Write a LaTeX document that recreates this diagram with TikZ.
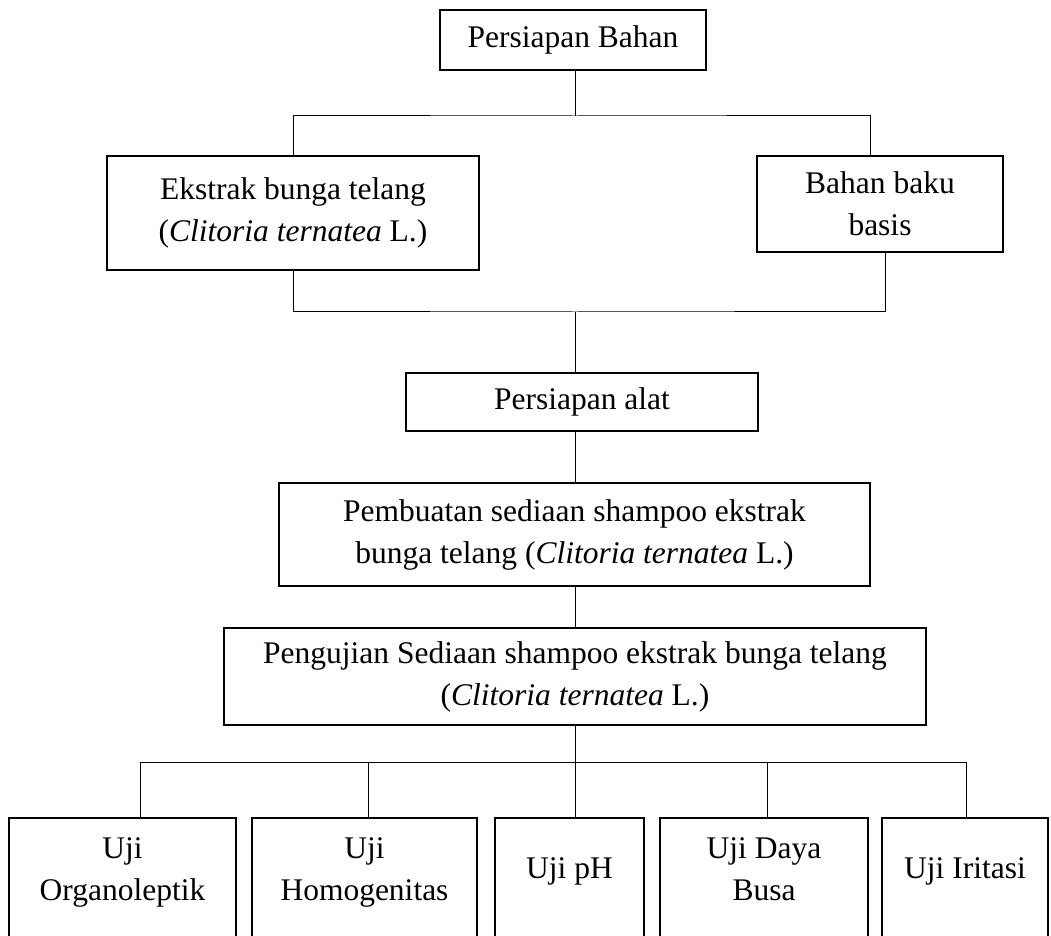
\documentclass[tikz,border=0pt]{standalone}
\usepackage{fontspec}
\setmainfont{Liberation Serif}
\begin{document}
\begin{tikzpicture}[x=0.5pt, y=-0.5pt,
    font=\fontsize{15.75}{21}\selectfont,
    box/.style={draw, line width=1.1pt, align=center, inner sep=0pt},
    testbox/.style={box, anchor=north, text depth=80pt},
    conn/.style={line width=0.5pt}]
    \clip (0,0) rectangle (1051,936);

    % Bahan
    \node[box, minimum width=133pt, minimum height=30pt] (bahan) at (573,40) {Persiapan Bahan};
    \node[box, minimum width=186pt, minimum height=57pt] (ekstrak) at (293,213) {Ekstrak bunga telang\\(\textit{Clitoria ternatea} L.)};
    \node[box, minimum width=123pt, minimum height=48pt] (baku) at (880,204) {Bahan baku\\basis};

    \coordinate (jtop) at (575,116);
    \coordinate (jbot) at (575,312);
    \draw[conn] (bahan.south -| jtop) -- (jtop);
    \draw[conn] (ekstrak.north) |- (jtop) -| ([xshift=-5pt]baku.north);
    \draw[conn] (ekstrak.south) |- (jbot) -| ([xshift=2.5pt]baku.south);

    % Alat, pembuatan, pengujian
    \node[box, minimum width=176pt, minimum height=29pt] (alat) at (582,402) {Persiapan alat};
    \node[box, minimum width=295.5pt, minimum height=51.5pt] (buat) at (574.5,534.5) {Pembuatan sediaan shampoo ekstrak\\bunga telang (\textit{Clitoria ternatea} L.)};
    \node[box, minimum width=351pt, minimum height=48.5pt] (uji) at (575,676.5) {Pengujian Sediaan shampoo ekstrak bunga telang\\(\textit{Clitoria ternatea} L.)};

    \draw[conn] (jbot) -- (jbot |- alat.north);
    \draw[conn] (alat.south -| jbot) -- (buat.north -| jbot);
    \draw[conn] (buat.south -| jbot) -- (uji.north -| jbot);

    % Uji sediaan
    \coordinate (bus) at (575,762);
    \draw[conn] (uji.south -| bus) -- (bus);
    \foreach \i/\cx/\lx/\w/\th/\txt in {1/122.5/140/113.5/41pt/{Uji\\Organoleptik},
                                        2/364.5/368/112.5/41pt/{Uji\\Homogenitas},
                                        3/569.5/575/74.5/30pt/{Uji pH},
                                        4/764/767/104/41pt/{Uji Daya\\Busa},
                                        5/965/966/83/30pt/{Uji Iritasi}} {
        \node[testbox, minimum width=\w pt, text height=\th] (t\i) at (\cx,817) {\txt};
        \coordinate (b\i) at (\lx,762);
        \draw[conn] (b\i) -- (b\i |- t\i.north);
    }
    \draw[conn] (b1) -- (b5);

\end{tikzpicture}
\end{document}
